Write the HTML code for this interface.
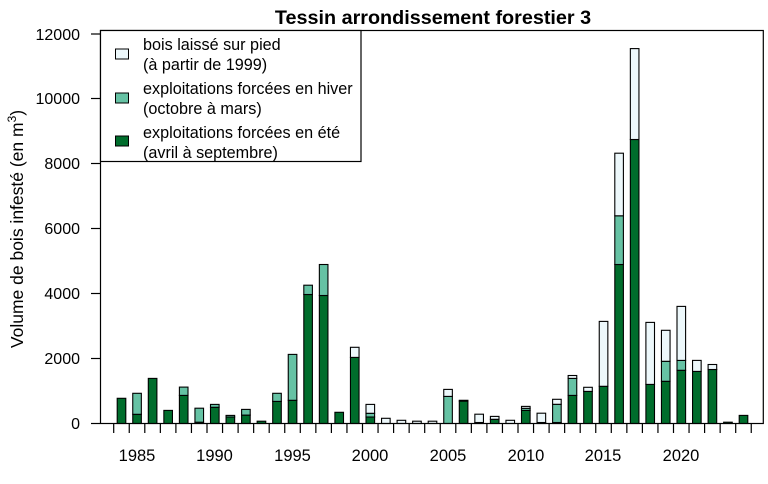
<!DOCTYPE html>
<html><head><meta charset="utf-8"><style>
body{margin:0;background:#fff}
svg{display:block;font-family:"Liberation Sans",Arial,sans-serif}
.d{fill:#006d2c}.t{fill:#66c2a4}.w{fill:#edf8fb}
#bars rect{stroke:#000;stroke-width:1.1}
</style></head><body>
<svg width="768" height="484" viewBox="0 0 768 484" xmlns="http://www.w3.org/2000/svg">
<text x="433" y="24" text-anchor="middle" font-size="19.8" font-weight="bold">Tessin arrondissement forestier 3</text>
<text transform="translate(23,229) rotate(-90)" text-anchor="middle" font-size="17.5">Volume de bois infesté (en m<tspan font-size="12" dy="-7">3</tspan><tspan dy="7">)</tspan></text>
<g font-size="16" text-anchor="end">
<text x="80" y="429">0</text><text x="80" y="364">2000</text><text x="80" y="299">4000</text>
<text x="80" y="234">6000</text><text x="80" y="169">8000</text><text x="80" y="104">10000</text><text x="80" y="40">12000</text>
</g>
<g stroke="#000" stroke-width="1.2">
<line x1="91" y1="423.5" x2="100" y2="423.5"/><line x1="91" y1="358.5" x2="100" y2="358.5"/>
<line x1="91" y1="293.5" x2="100" y2="293.5"/><line x1="91" y1="228.5" x2="100" y2="228.5"/>
<line x1="91" y1="163.5" x2="100" y2="163.5"/><line x1="91" y1="98.5" x2="100" y2="98.5"/>
<line x1="91" y1="34" x2="100" y2="34"/>
</g>
<g id="bars">
<rect class="d" x="117.2" y="398.3" width="8.6" height="25.2"/>
<rect class="d" x="132.75" y="414.3" width="8.6" height="9.2"/><rect class="t" x="132.75" y="393.3" width="8.6" height="21"/>
<rect class="d" x="148.3" y="378.4" width="8.6" height="45.1"/>
<rect class="d" x="163.85" y="410.4" width="8.6" height="13.1"/>
<rect class="d" x="179.4" y="395.4" width="8.6" height="28.1"/><rect class="t" x="179.4" y="387.1" width="8.6" height="8.3"/>
<rect class="d" x="194.95" y="422.2" width="8.6" height="1.3"/><rect class="t" x="194.95" y="408.2" width="8.6" height="14"/>
<rect class="d" x="210.5" y="407.3" width="8.6" height="16.2"/><rect class="t" x="210.5" y="404.4" width="8.6" height="2.9"/>
<rect class="d" x="226.05" y="417" width="8.6" height="6.5"/><rect class="t" x="226.05" y="415.4" width="8.6" height="1.6"/>
<rect class="d" x="241.6" y="415.1" width="8.6" height="8.4"/><rect class="t" x="241.6" y="409.4" width="8.6" height="5.7"/>
<rect class="d" x="257.15" y="421.2" width="8.6" height="2.3"/>
<rect class="d" x="272.7" y="401.4" width="8.6" height="22.1"/><rect class="t" x="272.7" y="393.3" width="8.6" height="8.1"/>
<rect class="d" x="288.25" y="400.3" width="8.6" height="23.2"/><rect class="t" x="288.25" y="354.4" width="8.6" height="45.9"/>
<rect class="d" x="303.8" y="294.5" width="8.6" height="129"/><rect class="t" x="303.8" y="285.2" width="8.6" height="9.3"/>
<rect class="d" x="319.35" y="295.5" width="8.6" height="128"/><rect class="t" x="319.35" y="264.5" width="8.6" height="31"/>
<rect class="d" x="334.9" y="412.3" width="8.6" height="11.2"/>
<rect class="d" x="350.45" y="357.4" width="8.6" height="66.1"/><rect class="w" x="350.45" y="347.3" width="8.6" height="10.1"/>
<rect class="d" x="366" y="417" width="8.6" height="6.5"/><rect class="t" x="366" y="413.3" width="8.6" height="3.7"/><rect class="w" x="366" y="404.4" width="8.6" height="8.9"/>
<rect class="w" x="381.55" y="418.3" width="8.6" height="5.2"/>
<rect class="w" x="397.1" y="420.3" width="8.6" height="3.2"/>
<rect class="w" x="412.65" y="421.2" width="8.6" height="2.3"/>
<rect class="w" x="428.2" y="421.2" width="8.6" height="2.3"/>
<rect class="t" x="443.75" y="396.4" width="8.6" height="27.1"/><rect class="w" x="443.75" y="389.4" width="8.6" height="7"/>
<rect class="d" x="459.3" y="401.1" width="8.6" height="22.4"/><rect class="w" x="459.3" y="400.3" width="8.6" height="0.8"/>
<rect class="d" x="474.85" y="422.5" width="8.6" height="1"/><rect class="w" x="474.85" y="414.2" width="8.6" height="8.3"/>
<rect class="d" x="490.4" y="419.3" width="8.6" height="4.2"/><rect class="w" x="490.4" y="416.4" width="8.6" height="2.9"/>
<rect class="w" x="505.95" y="420.3" width="8.6" height="3.2"/>
<rect class="d" x="521.5" y="410.4" width="8.6" height="13.1"/><rect class="t" x="521.5" y="408.3" width="8.6" height="2.1"/><rect class="w" x="521.5" y="406.4" width="8.6" height="1.9"/>
<rect class="d" x="537.05" y="422.5" width="8.6" height="1"/><rect class="w" x="537.05" y="413.2" width="8.6" height="9.3"/>
<rect class="d" x="552.6" y="422.5" width="8.6" height="1"/><rect class="t" x="552.6" y="404.3" width="8.6" height="18.2"/><rect class="w" x="552.6" y="399.3" width="8.6" height="5"/>
<rect class="d" x="568.15" y="395.4" width="8.6" height="28.1"/><rect class="t" x="568.15" y="378.4" width="8.6" height="17"/><rect class="w" x="568.15" y="375.5" width="8.6" height="2.9"/>
<rect class="d" x="583.7" y="391.4" width="8.6" height="32.1"/><rect class="w" x="583.7" y="387.3" width="8.6" height="4.1"/>
<rect class="d" x="599.25" y="386.3" width="8.6" height="37.2"/><rect class="w" x="599.25" y="321.4" width="8.6" height="64.9"/>
<rect class="d" x="614.8" y="264.5" width="8.6" height="159"/><rect class="t" x="614.8" y="215.8" width="8.6" height="48.7"/><rect class="w" x="614.8" y="153.2" width="8.6" height="62.6"/>
<rect class="d" x="630.35" y="139.5" width="8.6" height="284"/><rect class="w" x="630.35" y="48.6" width="8.6" height="90.9"/>
<rect class="d" x="645.9" y="384.4" width="8.6" height="39.1"/><rect class="w" x="645.9" y="322.4" width="8.6" height="62"/>
<rect class="d" x="661.45" y="381.3" width="8.6" height="42.2"/><rect class="t" x="661.45" y="361.3" width="8.6" height="20"/><rect class="w" x="661.45" y="330.3" width="8.6" height="31"/>
<rect class="d" x="677" y="370.3" width="8.6" height="53.2"/><rect class="t" x="677" y="360.4" width="8.6" height="9.9"/><rect class="w" x="677" y="306.4" width="8.6" height="54"/>
<rect class="d" x="692.55" y="371.4" width="8.6" height="52.1"/><rect class="w" x="692.55" y="360.4" width="8.6" height="11"/>
<rect class="d" x="708.1" y="369.5" width="8.6" height="54"/><rect class="w" x="708.1" y="364.5" width="8.6" height="5"/>
<rect class="d" x="723.65" y="422.2" width="8.6" height="1.3"/>
<rect class="d" x="739.2" y="415.4" width="8.6" height="8.1"/>
</g>
<path stroke="#000" stroke-width="1.2" fill="none" d="M113.7 423.5V433M129.25 423.5V433M144.8 423.5V433M160.35 423.5V433M175.9 423.5V433M191.45 423.5V433M207 423.5V433M222.55 423.5V433M238.1 423.5V433M253.65 423.5V433M269.2 423.5V433M284.75 423.5V433M300.3 423.5V433M315.85 423.5V433M331.4 423.5V433M346.95 423.5V433M362.5 423.5V433M378.05 423.5V433M393.6 423.5V433M409.15 423.5V433M424.7 423.5V433M440.25 423.5V433M455.8 423.5V433M471.35 423.5V433M486.9 423.5V433M502.45 423.5V433M518 423.5V433M533.55 423.5V433M549.1 423.5V433M564.65 423.5V433M580.2 423.5V433M595.75 423.5V433M611.3 423.5V433M626.85 423.5V433M642.4 423.5V433M657.95 423.5V433M673.5 423.5V433M689.05 423.5V433M704.6 423.5V433M720.15 423.5V433M735.7 423.5V433M751.25 423.5V433"/>
<g font-size="16.5" text-anchor="middle">
<text x="137" y="461">1985</text><text x="214.5" y="461">1990</text><text x="292.5" y="461">1995</text>
<text x="370" y="461">2000</text><text x="448" y="461">2005</text><text x="526" y="461">2010</text>
<text x="603" y="461">2015</text><text x="681" y="461">2020</text>
</g>
<rect x="100.5" y="30.5" width="662.8" height="393" fill="none" stroke="#000" stroke-width="1.2"/>
<rect x="100.5" y="30.5" width="260.5" height="131" fill="#fff" stroke="#000" stroke-width="1.2"/>
<rect x="115.5" y="49" width="13" height="10" fill="#edf8fb" stroke="#000"/>
<rect x="115.5" y="93" width="13" height="10" fill="#66c2a4" stroke="#000"/>
<rect x="115.5" y="136" width="13" height="10" fill="#006d2c" stroke="#000"/>
<g font-size="16.2">
<text x="143" y="50">bois laissé sur pied</text><text x="143" y="70">(à partir de 1999)</text>
<text x="143" y="94">exploitations forcées en hiver</text><text x="143" y="114">(octobre à mars)</text>
<text x="143" y="138">exploitations forcées en été</text><text x="143" y="158">(avril à septembre)</text>
</g>
</svg>
</body></html>
